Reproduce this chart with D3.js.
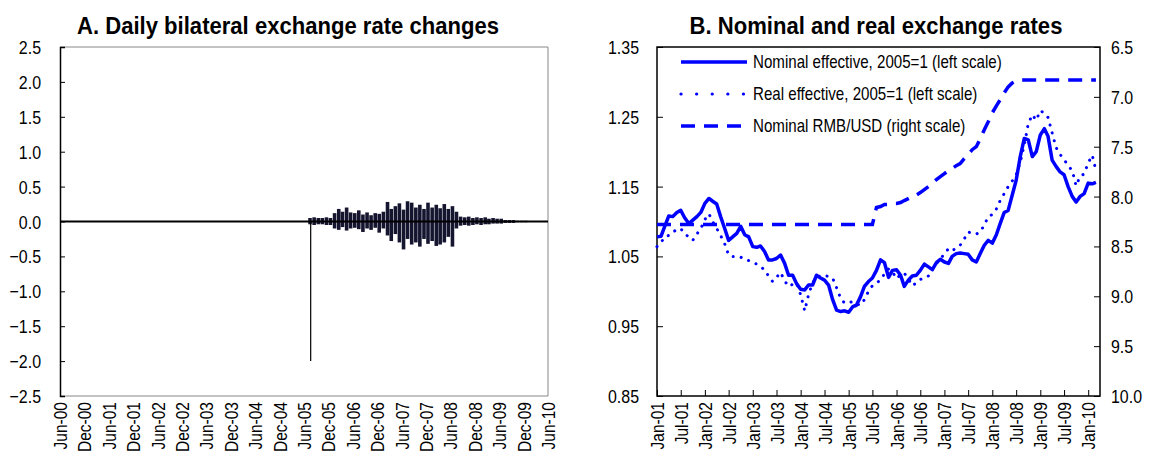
<!DOCTYPE html>
<html>
<head>
<meta charset="utf-8">
<script src="https://cdn.jsdelivr.net/npm/d3@7"></script>
<style>
  body { margin: 0; background: #fff; }
  text { font-family: "Liberation Sans", Arial, sans-serif; fill: #000; }
</style>
</head>
<body>
<svg id="chart" width="1155" height="461"></svg>
<script>
const svg = d3.select("#chart");

// Panel A: daily changes (%), summarised as monthly high / low from Jul-05 to Dec-09
const dailyStart = new Date(2005, 6, 1);
const revaluationDay = new Date(2005, 6, 21);
const revaluationChange = -2.0;
const dailyMax = [0.05, 0.06, 0.05, 0.05, 0.06, 0.05, 0.12, 0.18, 0.14, 0.20, 0.13, 0.12,
  0.16, 0.10, 0.13, 0.09, 0.12, 0.11, 0.14, 0.28, 0.18, 0.22, 0.26, 0.17,
  0.29, 0.27, 0.20, 0.24, 0.18, 0.27, 0.20, 0.24, 0.19, 0.25, 0.18, 0.22,
  0.14, 0.07, 0.06, 0.07, 0.05, 0.06, 0.05, 0.06, 0.04, 0.05, 0.04, 0.04,
  0.02, 0.02, 0.02, 0.01, 0.01, 0.01];
const dailyMin = [-0.04, -0.05, -0.04, -0.04, -0.05, -0.05, -0.10, -0.12, -0.08, -0.13, -0.10, -0.09,
  -0.11, -0.15, -0.10, -0.12, -0.09, -0.16, -0.10, -0.20, -0.28, -0.18, -0.30, -0.40,
  -0.25, -0.33, -0.30, -0.36, -0.25, -0.32, -0.28, -0.35, -0.33, -0.30, -0.22, -0.36,
  -0.10, -0.06, -0.05, -0.06, -0.05, -0.04, -0.05, -0.04, -0.04, -0.03, -0.03, -0.03,
  -0.02, -0.02, -0.02, -0.01, -0.01, -0.01];
const aTicks = [-2.5, -2.0, -1.5, -1.0, -0.5, 0.0, 0.5, 1.0, 1.5, 2.0, 2.5];

// Panel B: monthly from Jan-01
const bStart = new Date(2001, 0, 1);
const nominalEff = [1.078, 1.079, 1.093, 1.108, 1.107, 1.113, 1.116, 1.105, 1.097, 1.102,
  1.107, 1.113, 1.126, 1.133, 1.129, 1.125, 1.107, 1.090, 1.073, 1.078,
  1.083, 1.093, 1.081, 1.078, 1.064, 1.063, 1.065, 1.057, 1.045, 1.045,
  1.047, 1.052, 1.040, 1.023, 1.023, 1.011, 1.003, 1.002, 1.009, 1.009,
  1.023, 1.019, 1.016, 1.009, 0.988, 0.973, 0.971, 0.972, 0.970, 0.978,
  0.980, 0.992, 1.007, 1.014, 1.019, 1.030, 1.045, 1.041, 1.020, 1.030,
  1.031, 1.023, 1.007, 1.016, 1.022, 1.023, 1.030, 1.039, 1.035, 1.031,
  1.041, 1.046, 1.042, 1.040, 1.050, 1.054, 1.055, 1.054, 1.053, 1.045,
  1.042, 1.054, 1.066, 1.073, 1.069, 1.081, 1.097, 1.113, 1.116, 1.138,
  1.159, 1.193, 1.219, 1.217, 1.193, 1.200, 1.224, 1.233, 1.222, 1.188,
  1.179, 1.171, 1.167, 1.150, 1.136, 1.128, 1.136, 1.140, 1.155, 1.154, 1.156];
const realEff = [1.064, 1.070, 1.078, 1.080, 1.085, 1.088, 1.090, 1.082, 1.078, 1.073,
  1.082, 1.090, 1.103, 1.111, 1.100, 1.090, 1.080, 1.068, 1.052, 1.050,
  1.050, 1.049, 1.046, 1.044, 1.041, 1.039, 1.035, 1.031, 1.022, 1.014,
  1.020, 1.027, 1.015, 1.007, 1.010, 1.012, 0.995, 0.972, 0.995, 1.012,
  1.020, 1.022, 1.023, 1.021, 1.019, 1.005, 0.990, 0.983, 0.984, 0.985,
  0.982, 0.980, 0.988, 1.000, 1.008, 1.012, 1.016, 1.025, 1.032, 1.028,
  1.018, 1.024, 1.026, 1.018, 1.008, 1.012, 1.017, 1.019, 1.022, 1.032,
  1.040, 1.046, 1.054, 1.061, 1.058, 1.062, 1.066, 1.075, 1.085, 1.083,
  1.082, 1.085, 1.095, 1.107, 1.110, 1.118, 1.130, 1.140, 1.150, 1.158,
  1.167, 1.185, 1.210, 1.240, 1.253, 1.245, 1.259, 1.255, 1.249, 1.227,
  1.206, 1.196, 1.189, 1.180, 1.173, 1.151, 1.165, 1.168, 1.184, 1.195, 1.173];
const rmbUsd = [8.28, 8.28, 8.28, 8.28, 8.28, 8.28, 8.28, 8.28, 8.28, 8.28,
  8.28, 8.28, 8.28, 8.28, 8.28, 8.28, 8.28, 8.28, 8.28, 8.28,
  8.28, 8.28, 8.28, 8.28, 8.28, 8.28, 8.28, 8.28, 8.28, 8.28,
  8.28, 8.28, 8.28, 8.28, 8.28, 8.28, 8.28, 8.28, 8.28, 8.28,
  8.28, 8.28, 8.28, 8.28, 8.28, 8.28, 8.28, 8.28, 8.28, 8.28,
  8.28, 8.28, 8.28, 8.28, 8.28, 8.11, 8.10, 8.08, 8.08, 8.07,
  8.07, 8.06, 8.04, 8.02, 8.00, 7.985, 7.96, 7.93, 7.90, 7.87,
  7.83, 7.80, 7.77, 7.74, 7.72, 7.69, 7.67, 7.62, 7.58, 7.53,
  7.50, 7.42, 7.33, 7.25, 7.16, 7.09, 7.03, 6.96, 6.90, 6.86,
  6.84, 6.83, 6.83, 6.83, 6.83, 6.83, 6.83, 6.83, 6.83, 6.83,
  6.83, 6.83, 6.83, 6.83, 6.83, 6.83, 6.83, 6.83, 6.83, 6.83, 6.83];
const bLeftTicks = [0.85, 0.95, 1.05, 1.15, 1.25, 1.35];
const bRightTicks = [6.5, 7.0, 7.5, 8.0, 8.5, 9.0, 9.5, 10.0];
const legendLabels = ["Nominal effective, 2005=1 (left scale)", "Real effective, 2005=1 (left scale)", "Nominal RMB/USD (right scale)"];

const blue = "#0000ff";
const plotTop = 47, plotBottom = 396;
const narrow = "scale(0.84,1)";
const addMonths = (d, n) => new Date(d.getFullYear(), d.getMonth() + n, 1);

// ---------- Panel A ----------
const ax = d3.scaleTime().domain([new Date(2000, 5, 1), new Date(2010, 5, 1)]).range([60, 548]);
const ay = d3.scaleLinear().domain([-2.5, 2.5]).range([plotBottom, plotTop]);
const gA = svg.append("g");

gA.append("text").attr("transform", "translate(288,34) scale(0.92,1)").attr("text-anchor", "middle")
  .style("font-size", "24px").style("font-weight", "bold").text("A. Daily bilateral exchange rate changes");

gA.append("path").attr("d", `M60,${plotTop}H548V${plotBottom}H60`).attr("fill", "none").attr("stroke", "#888").attr("stroke-width", 1);

gA.append("g").attr("transform", "translate(60,0)")
  .call(d3.axisRight(ay).tickValues(aTicks).tickSize(5).tickFormat(""))
  .call(g => g.select(".domain").attr("stroke-width", 1.5));
gA.selectAll(".ylab").data(aTicks).join("text")
  .attr("transform", d => `translate(41,${ay(d) + 7}) ${narrow}`).attr("text-anchor", "end")
  .style("font-size", "19px").text(d3.format(".1f"));

const aLabelDates = d3.range(21).map(i => addMonths(new Date(2000, 5, 1), i * 6));
gA.selectAll(".xlab").data(aLabelDates).join("text")
  .attr("transform", d => `translate(${ax(d) + 7},402) rotate(-90) ${narrow}`)
  .attr("text-anchor", "end").style("font-size", "18.5px")
  .text(d3.timeFormat("%b-%y"));

// monthly ranges of the daily changes
gA.selectAll(".range").data(dailyMax).join("line")
  .attr("x1", (d, i) => ax(addMonths(dailyStart, i)) + 2)
  .attr("x2", (d, i) => ax(addMonths(dailyStart, i)) + 2)
  .attr("y1", d => ay(d))
  .attr("y2", (d, i) => ay(dailyMin[i]))
  .attr("stroke", "#151530").attr("stroke-width", 3.6);
gA.append("line")
  .attr("x1", ax(revaluationDay)).attr("x2", ax(revaluationDay))
  .attr("y1", ay(0)).attr("y2", ay(revaluationChange))
  .attr("stroke", "#000").attr("stroke-width", 1.2);
gA.append("line").attr("x1", 60).attr("x2", 548).attr("y1", ay(0)).attr("y2", ay(0))
  .attr("stroke", "#000").attr("stroke-width", 2);

// ---------- Panel B ----------
const bx = d3.scaleTime().domain([new Date(2001, 0, 1), new Date(2010, 3, 1)]).range([657, 1100]);
const byL = d3.scaleLinear().domain([0.85, 1.35]).range([plotBottom, plotTop]);
const byR = d3.scaleLinear().domain([10.0, 6.5]).range([plotBottom, plotTop]);
const gB = svg.append("g");

gB.append("text").attr("transform", "translate(876,34) scale(0.92,1)").attr("text-anchor", "middle")
  .style("font-size", "24px").style("font-weight", "bold").text("B. Nominal and real exchange rates");

gB.append("rect").attr("x", 657).attr("y", plotTop).attr("width", 443).attr("height", plotBottom - plotTop)
  .attr("fill", "none").attr("stroke", "#000").attr("stroke-width", 1.5);

gB.append("g").attr("transform", "translate(657,0)")
  .call(d3.axisRight(byL).tickValues(bLeftTicks).tickSize(6).tickFormat(""))
  .call(g => g.select(".domain").remove());
gB.append("g").attr("transform", "translate(1100,0)")
  .call(d3.axisLeft(byR).tickValues(bRightTicks).tickSize(6).tickFormat(""))
  .call(g => g.select(".domain").remove());
const bTickDates = d3.range(19).map(i => addMonths(bStart, i * 6));
gB.append("g").attr("transform", `translate(0,${plotBottom})`)
  .call(d3.axisTop(bx).tickValues(bTickDates).tickSize(6).tickFormat(""))
  .call(g => g.select(".domain").remove());

gB.selectAll(".ylabL").data(bLeftTicks).join("text")
  .attr("transform", d => `translate(639,${byL(d) + 7}) ${narrow}`).attr("text-anchor", "end")
  .style("font-size", "19px").text(d3.format(".2f"));
gB.selectAll(".ylabR").data(bRightTicks).join("text")
  .attr("transform", d => `translate(1111,${byR(d) + 7}) ${narrow}`).attr("text-anchor", "start")
  .style("font-size", "19px").text(d3.format(".1f"));
gB.selectAll(".xlab").data(bTickDates).join("text")
  .attr("transform", d => `translate(${bx(d) + 7},402) rotate(-90) ${narrow}`)
  .attr("text-anchor", "end").style("font-size", "18.5px")
  .text(d3.timeFormat("%b-%y"));

const monthX = (d, i) => bx(addMonths(bStart, i));
const lineL = d3.line().x(monthX).y(d => byL(d));
const lineR = d3.line().x(monthX).y(d => byR(d));

gB.append("path").datum(realEff).attr("d", lineL).attr("fill", "none")
  .attr("stroke", blue).attr("stroke-width", 3).attr("stroke-linecap", "round")
  .attr("stroke-dasharray", "0.1,8");
gB.append("path").datum(rmbUsd).attr("d", lineR).attr("fill", "none")
  .attr("stroke", blue).attr("stroke-width", 3.5).attr("stroke-dasharray", "14,9");
gB.append("path").datum(nominalEff).attr("d", lineL).attr("fill", "none")
  .attr("stroke", blue).attr("stroke-width", 3.5).attr("stroke-linejoin", "round");

// legend
const legendStyles = [
  { dash: null, cap: "butt", width: 3.5 },
  { dash: "0.1,15.5", cap: "round", width: 3.2 },
  { dash: "14,9", cap: "butt", width: 3.5 }
];
const legend = gB.selectAll(".leg").data(legendLabels).join("g")
  .attr("transform", (d, i) => `translate(677,${62 + i * 32})`);
legend.append("line").attr("x1", 4).attr("x2", 70).attr("y1", 0).attr("y2", 0)
  .attr("stroke", blue)
  .attr("stroke-width", (d, i) => legendStyles[i].width)
  .attr("stroke-linecap", (d, i) => legendStyles[i].cap)
  .attr("stroke-dasharray", (d, i) => legendStyles[i].dash);
legend.append("text").attr("transform", `translate(76,6) ${narrow}`).style("font-size", "18px").text(d => d);
</script>
</body>
</html>
